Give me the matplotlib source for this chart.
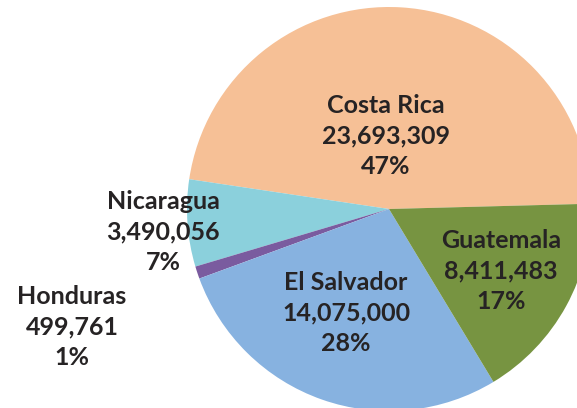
import matplotlib
matplotlib.use("Agg")
import matplotlib.pyplot as plt

countries = ["Costa Rica", "Nicaragua", "Honduras", "El Salvador", "Guatemala"]
values = [23693309, 3490056, 499761, 14075000, 8411483]
value_labels = ["23,693,309", "3,490,056", "499,761", "14,075,000", "8,411,483"]
pct_labels = ["47%", "7%", "1%", "28%", "17%"]
colors = ["#F6C096", "#8BD0DC", "#7A5B9F", "#87B2E0", "#779441"]

# label block centres (pixel coords, y from top)
label_pos = [(386, 136), (163, 232), (72, 327), (346, 313), (501, 271)]

W, H = 577, 408
fig = plt.figure(figsize=(W / 100, H / 100), dpi=100)
ax = fig.add_axes([0, 0, 1, 1])

cx, cy, r = 389, H - 209, 202
ax.pie(values, colors=colors, startangle=1.5, counterclock=True,
       center=(cx, cy), radius=r, frame=True,
       wedgeprops=dict(linewidth=0))
ax.set_xlim(0, W)
ax.set_ylim(0, H)
ax.set_aspect("equal")
ax.axis("off")

for name, v, p, (x, y) in zip(countries, value_labels, pct_labels, label_pos):
    ax.text(x, H - y, f"{name}\n{v}\n{p}", ha="center", va="center",
            fontsize=18, family=["Lato", "DejaVu Sans"], fontweight="bold",
            color="#262324", linespacing=1.42)

fig.savefig("out.png", dpi=100)
